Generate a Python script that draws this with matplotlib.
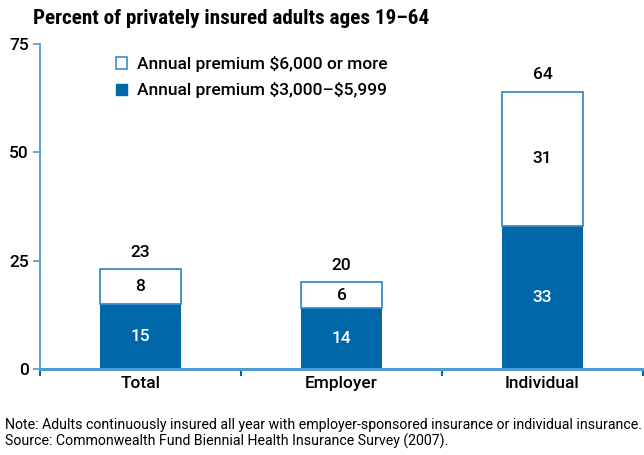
import matplotlib
matplotlib.use("Agg")
import matplotlib.pyplot as plt
from matplotlib.patches import Patch
from matplotlib import font_manager

# Data
categories = ["Total", "Employer", "Individual"]
premium_3000_5999 = [15, 14, 33]
premium_6000_plus = [8, 6, 31]
totals = [23, 20, 64]
y_ticks = [0, 25, 50, 75]

title = "Percent of privately insured adults ages 19\u201364"
legend_labels = ["Annual premium \\$6,000 or more", "Annual premium \\$3,000\u2013\\$5,999"]
note_lines = [
    "Note: Adults continuously insured all year with employer-sponsored insurance or individual insurance.",
    "Source: Commonwealth Fund Biennial Health Insurance Survey (2007).",
]

names = {f.name for f in font_manager.fontManager.ttflist}
TITLE_FONT = ["Roboto Condensed", "DejaVu Sans"] if "Roboto Condensed" in names else ["DejaVu Sans"]
BODY_FONT = ["Roboto", "DejaVu Sans"]
plt.rcParams["font.family"] = BODY_FONT

LBL = dict(fontsize=12.5, fontweight="medium")

BLUE = "#0068a8"
EDGE = "#3d8cc6"
AXIS = "#4f9bd0"

fig = plt.figure(figsize=(6.44, 4.55), dpi=100)
ax = fig.add_axes([40 / 644, 86 / 455, 603 / 644, 325 / 455])

x = list(range(len(categories)))
width = 0.4
ax.bar(x, premium_3000_5999, width=width, color=BLUE, edgecolor=BLUE, linewidth=0)
ax.bar(x, premium_6000_plus, width=width, bottom=premium_3000_5999,
       color="white", edgecolor=EDGE, linewidth=1.3)

for i in x:
    lo = premium_3000_5999[i]
    hi = premium_6000_plus[i]
    ax.text(i, lo / 2, str(lo), ha="center", va="center", color="white", **LBL)
    ax.text(i, lo + hi / 2, str(hi), ha="center", va="center", color="black", **LBL)
    ax.annotate(str(totals[i]), (i, totals[i]), xytext=(0, 7), textcoords="offset points",
                ha="center", va="bottom", color="black", **LBL)

ax.set_xlim(-0.5, 2.5)
ax.set_ylim(0, 75)
ax.set_yticks(y_ticks)
ax.set_yticklabels([str(t) for t in y_ticks], **LBL)
ax.set_xticks(x)
ax.set_xticklabels(categories, **LBL)
ax.tick_params(axis="x", length=0, pad=5)
ax.set_xticks([-0.5, 0.5, 1.5, 2.5], minor=True)
ax.tick_params(axis="x", which="minor", length=5, width=1.5, color=BLUE, direction="out")
ax.tick_params(axis="y", length=5, width=1.2, color=AXIS, direction="out", pad=3)

for side in ["top", "right"]:
    ax.spines[side].set_visible(False)
ax.spines["left"].set_color(AXIS)
ax.spines["left"].set_linewidth(1.3)
ax.spines["bottom"].set_color(AXIS)
ax.spines["bottom"].set_linewidth(2.2)
ax.spines["bottom"].set_zorder(5)

handles = [Patch(facecolor="white", edgecolor=EDGE, linewidth=1.2),
           Patch(facecolor=BLUE, edgecolor=BLUE)]
leg = ax.legend(handles, legend_labels, loc="upper left", bbox_to_anchor=(116 / 644, 1 - 56 / 455),
                bbox_transform=fig.transFigure, frameon=False,
                prop={"family": BODY_FONT, "size": 12.5, "weight": "medium"},
                handlelength=0.62, handleheight=0.62, handletextpad=0.6, labelspacing=0.6,
                borderpad=0, borderaxespad=0)

fig.text(33 / 644, 1 - 18 / 455, title, ha="left", va="center", fontsize=15.2,
         family=TITLE_FONT, fontweight="bold")
fig.text(5 / 644, 1 - 425 / 455, note_lines[0], ha="left", va="center", fontsize=10.2)
fig.text(5 / 644, 1 - 441 / 455, note_lines[1], ha="left", va="center", fontsize=10.2)

fig.savefig("out.png", dpi=100)
